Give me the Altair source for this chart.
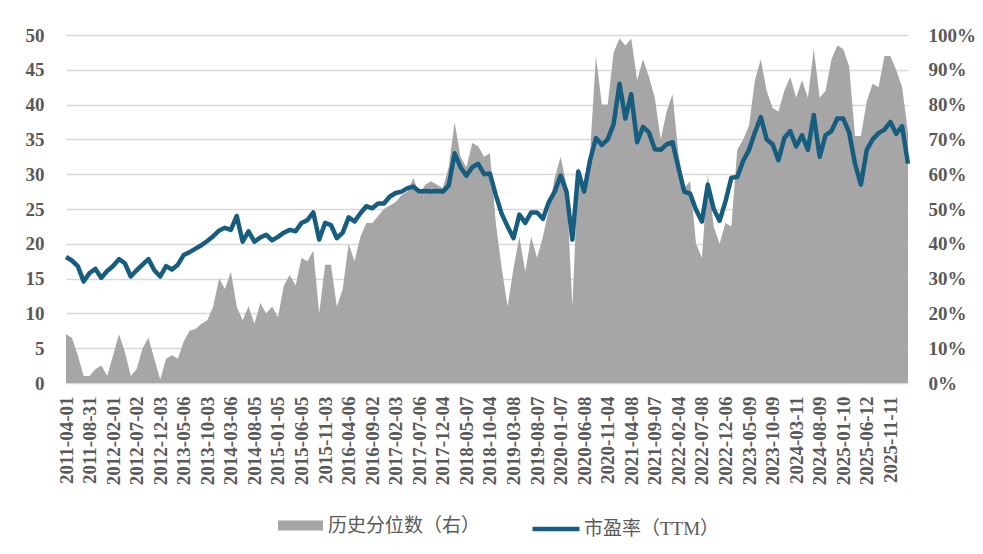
import altair as alt
import pandas as pd

# x-axis category labels (one every label interval)
tick_labels = [
    "2011-04-01", "2011-08-31", "2012-02-01", "2012-07-02", "2012-12-03", "2013-05-06",
    "2013-10-03", "2014-03-06", "2014-08-05", "2015-01-05", "2015-06-05", "2015-11-03",
    "2016-04-06", "2016-09-02", "2017-02-03", "2017-07-06", "2017-12-04", "2018-05-07",
    "2018-10-04", "2019-03-08", "2019-08-07", "2020-01-07", "2020-06-08", "2020-11-04",
    "2021-04-08", "2021-09-07", "2022-02-04", "2022-07-08", "2022-12-06", "2023-05-09",
    "2023-10-09", "2024-03-11", "2024-08-09", "2025-01-10", "2025-06-12", "2025-11-11",
]

series_names = ["历史分位数（右）", "市盈率（TTM）"]

# PE (TTM), 4 readings per label interval
pe = [
    18.1, 17.6, 16.8, 14.6,
    15.8, 16.4, 15.1, 16.1,
    16.8, 17.8, 17.2, 15.3,
    16.2, 17.0, 17.8, 16.2,
    15.3, 16.8, 16.3, 17.0,
    18.4, 18.8, 19.3, 19.8,
    20.4, 21.1, 21.9, 22.3,
    22.0, 24.0, 20.3, 21.8,
    20.3, 20.9, 21.3, 20.5,
    21.0, 21.6, 22.0, 21.8,
    23.0, 23.4, 24.5, 20.6,
    23.0, 22.7, 20.8, 21.6,
    23.8, 23.2, 24.4, 25.4,
    25.1, 25.8, 25.8, 26.8,
    27.3, 27.5, 28.0, 28.2,
    27.5, 27.6, 27.5, 27.6,
    27.5, 28.4, 33.0, 31.0,
    29.8, 31.0, 31.5, 30.0,
    30.1, 27.0, 24.3, 22.5,
    20.8, 24.2, 23.0, 24.5,
    24.5, 23.6, 26.0, 27.5,
    29.8, 27.5, 20.6, 30.4,
    27.5, 32.0, 35.2, 34.2,
    35.0, 37.2, 43.0, 38.0,
    41.5, 34.6, 36.8, 36.0,
    33.6, 33.5, 34.3, 34.6,
    31.0, 27.5, 27.2, 24.9,
    23.2, 28.5, 25.0, 23.3,
    26.1, 29.5, 29.6, 31.9,
    33.5, 36.0, 38.2, 35.0,
    34.3, 32.0, 35.2, 36.2,
    34.0, 35.6, 33.5, 38.5,
    32.5, 35.6, 36.2, 38.0,
    38.0, 36.0, 31.5, 28.5,
    33.5, 35.0, 35.9, 36.4,
    37.5, 35.8, 36.9, 31.5,
]

# historical percentile (%), same readings grid
pct = [
    14, 13, 8, 2,
    2, 4, 5, 2,
    8, 14, 9, 2,
    4, 10, 13, 7,
    1, 7, 8, 7,
    12, 15, 15.5, 17,
    18, 22, 30, 27,
    32, 22, 18, 22,
    17, 23, 20, 22,
    19, 28, 31, 28,
    36, 35, 38, 20,
    34, 34, 22, 27,
    40, 35, 42, 46,
    46, 48, 50, 51,
    52, 54, 55, 59,
    54, 57, 58, 57,
    56, 62, 75, 65,
    62, 69, 68, 65,
    66, 46, 33, 22,
    33, 42, 32, 42,
    36, 42, 50, 59,
    65, 57, 22, 62,
    57, 66, 94, 80,
    80, 95, 99, 97,
    99, 87, 93, 88,
    82, 70, 78, 83,
    66, 56, 58, 40,
    36, 60, 45, 40,
    46, 45, 67, 70,
    74, 87, 93, 84,
    79, 78, 84, 88,
    82, 87, 82, 96,
    82, 84, 93, 97,
    96, 91, 71, 71,
    81, 86, 85, 94,
    94, 90, 85, 72,
]

STEP = 0.25
df = pd.DataFrame({
    "t": [k * STEP for k in range(len(pe))],
    "pe": pe,
    "pct": [v / 100 for v in pct],
    "s_area": series_names[0],
    "s_line": series_names[1],
})

label_expr = "[" + ",".join("'" + d + "'" for d in tick_labels) + "][datum.value]"
SERIF = "Liberation Serif"
MIXED = "Liberation Serif, Noto Sans CJK SC"
TXT = "#595959"

x = alt.X(
    "t:Q",
    scale=alt.Scale(domain=[0, (len(pe) - 1) * STEP], nice=False, zero=False),
    axis=alt.Axis(
        values=list(range(len(tick_labels))),
        labelExpr=label_expr,
        labelAngle=270,
        labelAlign="right",
        labelBaseline="middle",
        labelFont=SERIF,
        labelFontWeight="bold",
        labelFontSize=19,
        labelColor=TXT,
        labelPadding=13,
        labelOverlap=False,
        ticks=False,
        domain=False,
        grid=False,
        title=None,
    ),
)

area = alt.Chart(df).mark_area(opacity=1).encode(
    x=x,
    y=alt.Y(
        "pct:Q",
        scale=alt.Scale(domain=[0, 1], nice=False),
        axis=alt.Axis(
            orient="right",
            values=[i / 10 for i in range(11)],
            format=".0%",
            labelFont=SERIF,
            labelFontWeight="bold",
            labelFontSize=19,
            labelColor=TXT,
            labelPadding=20,
            ticks=False,
            domain=False,
            grid=False,
            title=None,
        ),
    ),
    color=alt.Color(
        "s_area:N",
        scale=alt.Scale(domain=[series_names[0]], range=["#a6a6a6"]),
        legend=alt.Legend(
            orient="none",
            legendX=212,
            legendY=468,
            title=None,
            symbolType="M-1,-0.22H1V0.22H-1Z",
            symbolSize=2025,
            symbolStrokeWidth=0,
            symbolOpacity=1,
            labelFont=MIXED,
            labelFontSize=19,
            labelColor=TXT,
            labelOffset=5,
        ),
    ),
)

line = alt.Chart(df).mark_line(strokeWidth=4.5, strokeJoin="round").encode(
    x=x,
    y=alt.Y(
        "pe:Q",
        scale=alt.Scale(domain=[0, 50], nice=False),
        axis=alt.Axis(
            orient="left",
            values=list(range(0, 51, 5)),
            labelFont=SERIF,
            labelFontWeight="bold",
            labelFontSize=19,
            labelColor=TXT,
            labelPadding=22,
            ticks=False,
            domain=False,
            grid=True,
            gridColor="#d9d9d9",
            gridWidth=1.5,
            title=None,
        ),
    ),
    color=alt.Color(
        "s_line:N",
        scale=alt.Scale(domain=[series_names[1]], range=["#175d80"]),
        legend=alt.Legend(
            orient="none",
            legendX=464,
            legendY=468,
            title=None,
            symbolType="stroke",
            symbolSize=2209,
            symbolStrokeWidth=4.5,
            labelFont=MIXED,
            labelFontSize=19,
            labelColor=TXT,
            labelOffset=2,
        ),
    ),
)

chart = (
    alt.layer(area, line)
    .resolve_scale(y="independent", color="independent")
    .properties(
        width=842,
        height=348,
        autosize=alt.AutoSizeParams(type="none"),
        padding={"left": 66, "top": 35, "right": 75, "bottom": 171},
        background="white",
    )
    .configure_view(stroke=None)
)

chart.save("out.html", embed_options={"renderer": "svg", "actions": False})
